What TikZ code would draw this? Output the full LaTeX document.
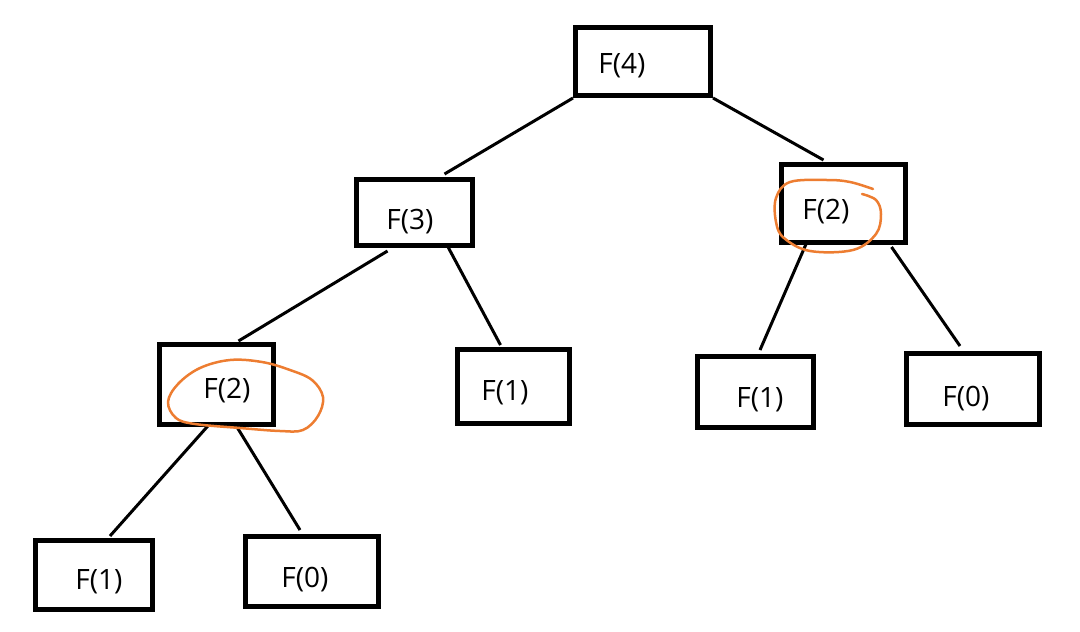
\documentclass[tikz,border=0pt]{standalone}
\usepackage{fontspec}
\setmainfont{Open Sans}
\usetikzlibrary{calc}
\definecolor{hlorange}{RGB}{237,125,49}
\tikzset{
  box/.style={draw=black, line width=5pt, minimum width=#1, inner sep=0pt},
  lbl/.style={inner sep=0pt, font=\fontsize{28}{32}\selectfont},
  edge/.style={draw=black, line width=3pt},
  ring/.style={draw=hlorange, line width=2.5pt, line cap=round, line join=round}
}
\begin{document}
\begin{tikzpicture}[x=1pt,y=-1pt]
\useasboundingbox (0,0) rectangle (1080,632);
% boxes
\node[box=135pt, minimum height=68pt] (b4) at (643,61.5) {};
\node[box=116pt, minimum height=66pt] (b3) at (414.5,212.5) {};
\node[box=124pt, minimum height=78pt] (b2r) at (843.5,203.5) {};
\node[box=114pt, minimum height=80pt] (b2l) at (216.5,384.5) {};
\node[box=112pt, minimum height=74pt] (b1m) at (513.5,386.5) {};
\node[box=116pt, minimum height=71pt] (b1r) at (755.5,392) {};
\node[box=133pt, minimum height=71pt] (b0r) at (973,389) {};
\node[box=117pt, minimum height=69pt] (b1b) at (94,575) {};
\node[box=133pt, minimum height=70pt] (b0b) at (312,571.5) {};
% labels
\node[lbl] (t4) at (622,66) {F(4)};
\node[lbl] (t3) at (410,222) {F(3)};
\node[lbl] (t2r) at (826,212) {F(2)};
\node[lbl] (t2l) at (227,391) {F(2)};
\node[lbl] (t1m) at (505,393) {F(1)};
\node[lbl] (t1r) at (760,400) {F(1)};
\node[lbl] (t0r) at (966,399) {F(0)};
\node[lbl] (t1b) at (99,582) {F(1)};
\node[lbl] (t0b) at (305,580) {F(0)};
% edges
\draw[edge] (b4.south west) -- ($(b3.north)+(30,-3)$);
\draw[edge] (b4.south east) -- ($(b2r.north)+(-20,-2)$);
\draw[edge] ($(b3.south)+(-27,3)$) -- ($(b2l.north)+(22,-1)$);
\draw[edge] ($(b3.south)+(33,-2)$) -- ($(b1m.north)+(-13,-2)$);
\draw[edge] ($(b2r.south)+(-37,-2)$) -- ($(b1r.north)+(4.5,-4)$);
\draw[edge] ($(b2r.south)+(48,2)$) -- ($(b0r.north)+(-13,-5)$);
\draw[edge] ($(b2l.south)+(-6,-4)$) -- ($(b1b.north)+(16,-2)$);
\draw[edge] ($(b2l.south)+(18,-4)$) -- ($(b0b.north)+(-12,-4)$);
% orange hand-drawn rings
\draw[ring] plot[smooth cycle, tension=0.6] coordinates {
  (230,360) (200,368) (178,384) (168,402) (176,418) (195,424) (240,428)
  (280,431) (303,430) (318,416) (323,397) (312,380) (290,370) (262,362)};
\draw[ring] plot[smooth, tension=0.6] coordinates {
  (873,189) (850,182) (827,180) (790,182) (776,198) (776,222) (784,238)
  (810,251) (853,250) (876,234) (881,214) (876,200) (862,194)};
\end{tikzpicture}
\end{document}
